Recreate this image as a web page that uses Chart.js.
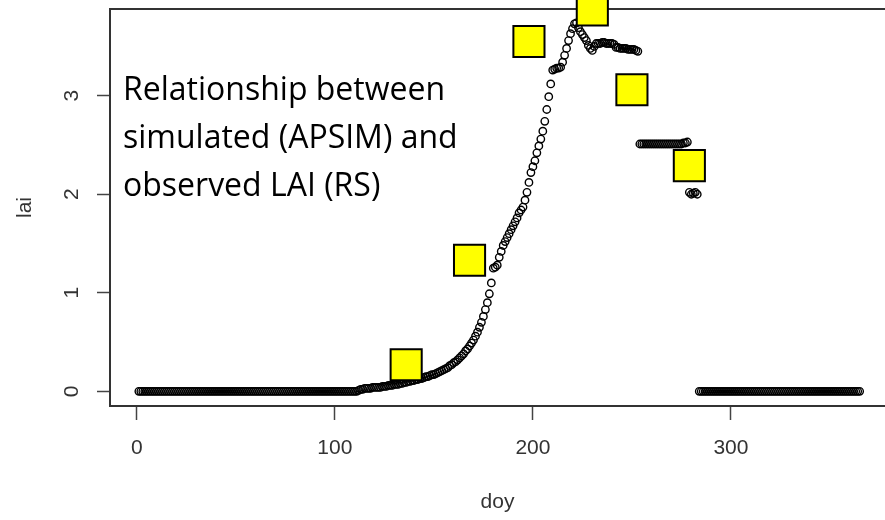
<!DOCTYPE html>
<html>
<head>
<meta charset="utf-8">
<script src="https://cdn.jsdelivr.net/npm/chart.js@4/dist/chart.umd.min.js"></script>
<style>
  html, body { margin: 0; padding: 0; background: #fff; }
  canvas { display: block; }
</style>
</head>
<body>
<canvas id="lai" width="885" height="520"></canvas>
<script>
// simulated LAI (APSIM), one value per day of year 1..365
const simLai = [
  0,0,0,0,0,0,0,0,0,0,0,0,0,0,0,0,0,0,0,0,
  0,0,0,0,0,0,0,0,0,0,0,0,0,0,0,0,0,0,0,0,
  0,0,0,0,0,0,0,0,0,0,0,0,0,0,0,0,0,0,0,0,
  0,0,0,0,0,0,0,0,0,0,0,0,0,0,0,0,0,0,0,0,
  0,0,0,0,0,0,0,0,0,0,0,0,0,0,0,0,0,0,0,0,
  0,0,0,0,0,0,0,0,0,0,0,
  0.01,0.02,0.02,0.03,0.03,0.03,0.03,0.04,0.04,0.04,
  0.04,0.04,0.05,0.05,0.05,0.06,0.06,0.06,0.07,0.07,
  0.07,0.08,0.08,0.09,0.09,0.10,0.10,0.11,0.11,0.12,
  0.12,0.13,0.13,0.14,0.15,0.15,0.16,0.17,0.17,0.18,
  0.19,0.20,0.21,0.22,0.23,0.24,0.26,0.27,0.29,0.30,
  0.32,0.34,0.36,0.38,0.41,0.43,0.46,0.49,0.52,0.56,
  0.60,0.65,0.70,0.76,0.83,0.90,0.99,1.10,1.25,1.26,
  1.28,1.36,1.42,1.48,1.52,1.56,1.60,1.64,1.68,1.72,
  1.76,1.81,1.84,1.87,1.94,2.02,2.12,2.22,2.28,2.34,
  2.42,2.49,2.56,2.64,2.74,2.86,2.99,3.12,3.26,3.27,
  3.28,3.28,3.29,3.34,3.41,3.48,3.56,3.63,3.68,3.73,
  3.74,3.69,3.65,3.62,3.59,3.56,3.51,3.48,3.46,3.50,
  3.53,3.53,3.53,3.54,3.54,3.53,3.53,3.53,3.53,3.52,
  3.49,3.49,3.48,3.48,3.48,3.48,3.47,3.47,3.47,3.47,3.46,3.45,
  2.51,2.51,2.51,2.51,2.51,2.51,2.51,2.51,2.51,2.51,
  2.51,2.51,2.51,2.51,2.51,2.51,2.51,2.51,2.51,2.51,
  2.51,2.51,2.52,2.52,2.53,
  2.02,2.00,2.01,2.02,2.00,
  0,0,0,0,0,0,0,0,0,0,0,0,0,0,0,0,0,0,0,0,
  0,0,0,0,0,0,0,0,0,0,0,0,0,0,0,0,0,0,0,0,
  0,0,0,0,0,0,0,0,0,0,0,0,0,0,0,0,0,0,0,0,
  0,0,0,0,0,0,0,0,0,0,0,0,0,0,0,0,0,0,0,0,
  0,0
];
const doy = simLai.map((v, i) => i + 1);

// observed LAI (RS)
const obsDoy = [136, 168, 198, 230, 250, 279];
const obsLai = [0.27, 1.33, 3.55, 3.87, 3.06, 2.29];

const xTicks = [0, 100, 200, 300];
const yTicks = [0, 1, 2, 3];
const noteLines = ['Relationship between', 'simulated (APSIM) and', 'observed LAI (RS)'];

const axisFont = { family: 'Liberation Sans, Arial, sans-serif', size: 21 };

// R-style box (right side runs off the picture) and the slide note
const frame = {
  id: 'frame',
  beforeDatasetsDraw(chart) {
    const { ctx, chartArea: a } = chart;
    ctx.save();
    ctx.strokeStyle = '#333';
    ctx.lineWidth = 2;
    ctx.beginPath();
    ctx.moveTo(a.right + 4, a.top);
    ctx.lineTo(a.left, a.top);
    ctx.lineTo(a.left, a.bottom);
    ctx.lineTo(a.right + 4, a.bottom);
    ctx.stroke();
    ctx.fillStyle = '#000';
    ctx.font = '32px "Open Sans", sans-serif';
    ctx.textBaseline = 'alphabetic';
    noteLines.forEach((t, i) => ctx.fillText(t, a.left + 13, a.top + 91 + i * 48));
    ctx.restore();
  }
};

// fixed axis boxes, no extra label padding
const fixBox = (w, h) => s => {
  if (w) s.width = w;
  if (h) s.height = h;
  s.paddingTop = 0; s.paddingBottom = 0; s.paddingLeft = 0; s.paddingRight = 0;
};

new Chart(document.getElementById('lai'), {
  type: 'scatter',
  data: {
    datasets: [
      {
        label: 'observed',
        data: obsDoy.map((d, i) => ({ x: d, y: obsLai[i] })),
        pointStyle: 'rect',
        pointRadius: 22,
        backgroundColor: '#ffff00',
        borderColor: '#000',
        borderWidth: 2,
        clip: false
      },
      {
        label: 'simulated',
        data: doy.map((d, i) => ({ x: d, y: simLai[i] })),
        pointStyle: 'circle',
        pointRadius: 3.7,
        backgroundColor: 'rgba(0,0,0,0)',
        borderColor: '#000',
        borderWidth: 1.4
      }
    ]
  },
  options: {
    responsive: false,
    animation: false,
    layout: { autoPadding: false, padding: { top: 9, right: 0, bottom: 0, left: 0 } },
    plugins: { legend: { display: false }, tooltip: { enabled: false } },
    scales: {
      x: {
        type: 'linear',
        min: -13.56,
        max: 377.8,
        afterBuildTicks: s => { s.ticks = xTicks.map(v => ({ value: v })); },
        afterFit: fixBox(0, 114),
        grid: { drawOnChartArea: false, tickLength: 14, tickColor: '#444', tickWidth: 1.5 },
        border: { display: false },
        ticks: { autoSkip: false, maxRotation: 0, padding: 16, color: '#333', font: axisFont },
        title: { display: true, text: 'doy', color: '#333', font: axisFont, padding: { top: 0, bottom: 5 } }
      },
      y: {
        type: 'linear',
        min: -0.149,
        max: 3.88,
        afterBuildTicks: s => { s.ticks = yTicks.map(v => ({ value: v })); },
        afterFit: fixBox(110, 0),
        grid: { drawOnChartArea: false, tickLength: 13, tickColor: '#444', tickWidth: 1.5 },
        border: { display: false },
        ticks: { autoSkip: false, minRotation: 90, maxRotation: 90, crossAlign: 'center', padding: 19, color: '#333', font: axisFont },
        title: { display: true, text: 'lai', color: '#333', font: axisFont, padding: { top: 13, bottom: 0 } }
      }
    }
  },
  plugins: [frame]
});
</script>
</body>
</html>
